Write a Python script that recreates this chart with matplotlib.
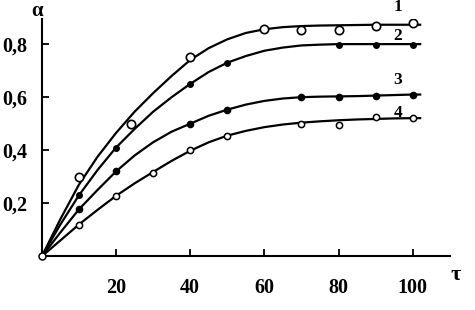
import matplotlib
matplotlib.use("Agg")
import matplotlib.pyplot as plt

# smooth curves, every 5 units of tau
tau = [0, 5, 10, 15, 20, 25, 30, 35, 40, 45, 50, 55, 60, 65, 70, 75, 80, 85, 90, 95, 100, 102]
curve1 = [0, .14, .27, .375, .465, .545, .615, .68, .74, .785, .818, .842, .856, .864, .868, .870, .871, .872, .873, .873, .873, .873]
curve2 = [0, .12, .23, .325, .41, .48, .545, .60, .65, .695, .73, .755, .775, .787, .795, .798, .80, .80, .80, .80, .80, .80]
curve3 = [0, .09, .177, .25, .32, .38, .43, .47, .50, .53, .553, .572, .586, .595, .60, .602, .603, .604, .606, .608, .61, .61]
curve4 = [0, .06, .12, .175, .228, .275, .318, .36, .398, .43, .455, .473, .487, .497, .504, .509, .513, .516, .518, .52, .521, .521]

# experimental points
x1 = [10, 24, 40, 60, 70, 80, 90, 100]
y1 = [.30, .50, .75, .857, .853, .853, .868, .878]
x2 = [10, 20, 40, 50, 80, 90, 100]
y2 = [.23, .41, .648, .73, .796, .796, .796]
x3 = [10, 20, 40, 50, 70, 80, 90, 100]
y3 = [.177, .32, .50, .55, .60, .60, .604, .61]
x4 = [10, 20, 30, 40, 50, 70, 80, 90, 100]
y4 = [.12, .228, .316, .40, .453, .498, .495, .526, .523]

labels = ['1', '2', '3', '4']
label_y = [.94, .83, .665, .54]
xticks = [20, 40, 60, 80, 100]
yticks = [0.2, 0.4, 0.6, 0.8]
ytick_labels = ['0,2', '0,4', '0,6', '0,8']

plt.rcParams['font.family'] = ['Liberation Serif', 'DejaVu Serif']
plt.rcParams['font.weight'] = 'bold'

fig = plt.figure(figsize=(4.75, 3.1), dpi=100)
ax = fig.add_axes([0.088, 0.173, 0.859, 0.766])

for c in [curve1, curve2, curve3, curve4]:
    ax.plot(tau, c, color='black', lw=1.6, zorder=2)

ax.plot(x1, y1, 'o', ms=6, mfc='white', mec='black', mew=1.2, zorder=3)
ax.plot(x2, y2, 'o', ms=4, mfc='black', mec='black', mew=1, zorder=3)
ax.plot(x3, y3, 'o', ms=4.5, mfc='black', mec='black', mew=1, zorder=3)
ax.plot(x4, y4, 'o', ms=4.5, mfc='white', mec='black', mew=1.1, zorder=3)
ax.plot([0], [0], 'o', ms=5, mfc='white', mec='black', mew=1.1, zorder=4, clip_on=False)

for lab, ly in zip(labels, label_y):
    ax.text(96, ly, lab, fontsize=12.5, fontweight='bold', ha='center', va='center')

ax.set_xlim(0, 110)
ax.set_ylim(0, 0.895)
ax.spines['top'].set_visible(False)
ax.spines['right'].set_visible(False)
ax.spines['left'].set_linewidth(1.5)
ax.spines['bottom'].set_linewidth(1.5)

ax.set_xticks(xticks)
ax.set_xticklabels([str(t) for t in xticks])
ax.set_yticks(yticks)
ax.set_yticklabels(ytick_labels)
ax.tick_params(direction='in', length=5, width=1.3, labelsize=14.5)
ax.tick_params(axis='x', pad=15.5)
ax.tick_params(axis='y', pad=10.5)

fig.text(0.078, 0.965, 'α', fontsize=15, fontweight='bold', ha='center', va='center')
fig.text(0.960, 0.113, 'τ', fontsize=16, fontweight='bold', ha='center', va='center')

fig.savefig('out.png', dpi=100)
